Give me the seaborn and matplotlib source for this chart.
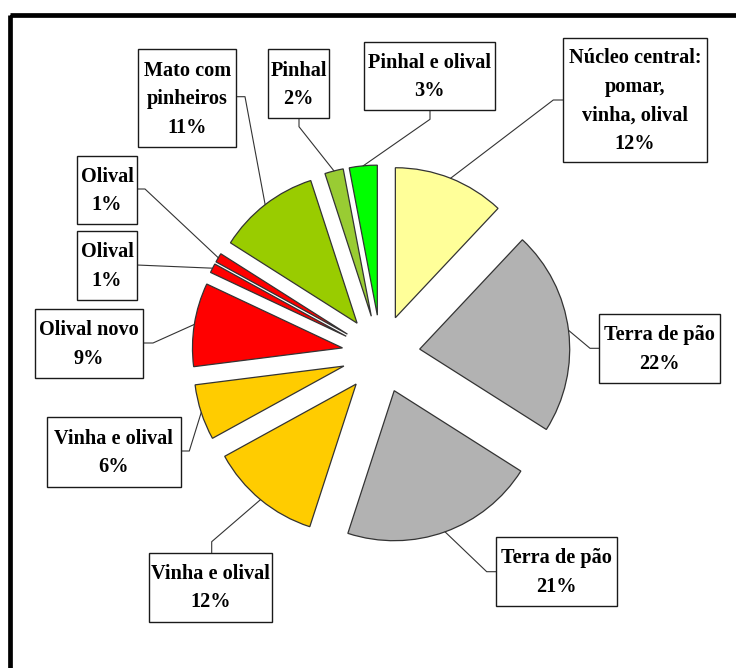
import matplotlib
matplotlib.use("Agg")
import matplotlib.pyplot as plt
import seaborn as sns
import numpy as np
from matplotlib.patches import Rectangle

# Land-use shares, drawn clockwise from 12 o'clock
categories = [
    "Núcleo central:\npomar,\nvinha, olival",
    "Terra de pão",
    "Terra de pão",
    "Vinha e olival",
    "Vinha e olival",
    "Olival novo",
    "Olival",
    "Olival",
    "Mato com\npinheiros",
    "Pinhal",
    "Pinhal e olival",
]
shares = [12, 22, 21, 12, 6, 9, 1, 1, 11, 2, 3]
slice_colors = [
    "#FFFF99", "#B2B2B2", "#B2B2B2", "#FFCC00", "#FFCC00",
    "#FF0000", "#FF0000", "#FF0000", "#99CC00", "#99CC33", "#00FF00",
]

# Label boxes (x0, y0, x1, y1) in canvas pixels
label_boxes = [
    (563.3, 38.3, 706.7, 161.7),
    (599.0, 314.0, 720.0, 383.3),
    (496.0, 537.3, 617.3, 606.0),
    (149.0, 552.7, 272.3, 621.7),
    (46.7, 417.3, 180.7, 486.7),
    (35.0, 309.3, 143.3, 377.7),
    (77.3, 230.7, 136.7, 300.0),
    (77.3, 156.0, 136.7, 224.0),
    (138.3, 49.3, 236.0, 147.3),
    (268.3, 49.3, 329.3, 118.3),
    (364.0, 42.3, 495.0, 110.0),
]
# Leader-line bends from the wedge rim to each box
leader_paths = [
    [(553.3, 100.0), (563.3, 100.0)],
    [(590.0, 348.3), (599.0, 348.3)],
    [(486.7, 571.7), (496.0, 571.7)],
    [(211.7, 541.7), (211.7, 552.7)],
    [(189.3, 451.0), (180.7, 451.0)],
    [(153.0, 343.0), (143.3, 343.0)],
    [(136.7, 265.0)],
    [(145.0, 189.0), (136.7, 189.0)],
    [(245.0, 96.7), (236.0, 96.7)],
    [(299.0, 126.7), (299.0, 118.3)],
    [(430.0, 119.3), (430.0, 110.0)],
]

sns.set_theme(style="white")
plt.rcParams["font.family"] = ["Liberation Serif", "DejaVu Serif"]

W, H = 736, 668
fig = plt.figure(figsize=(W / 100, H / 100), dpi=100)
ax = fig.add_axes([0, 0, 1, 1])

wedges, _ = ax.pie(
    shares,
    colors=slice_colors,
    startangle=-90,
    counterclock=True,
    explode=[39] * len(shares),
    radius=150,
    center=(381, 354),
    frame=True,
    wedgeprops=dict(edgecolor="#333333", linewidth=0.9),
)
ax.set_xlim(0, W)
ax.set_ylim(H, 0)
ax.set_aspect("equal", adjustable="box")
ax.set_axis_off()

for w, name, val, box, path in zip(wedges, categories, shares, label_boxes, leader_paths):
    th = np.deg2rad(0.5 * (w.theta1 + w.theta2))
    cx, cy = w.center
    start = (cx + w.r * np.cos(th), cy + w.r * np.sin(th))
    pts = [start] + path
    ax.plot([p[0] for p in pts], [p[1] for p in pts], color="#333333",
            lw=0.8, zorder=3)
    x0, y0, x1, y1 = box
    ax.add_patch(Rectangle((x0, y0), x1 - x0, y1 - y0, facecolor="white",
                           edgecolor="#1a1a1a", lw=1.0, zorder=4))
    ax.text((x0 + x1) / 2, (y0 + y1) / 2 + 1, f"{name}\n{val}%", ha="center",
            va="center", fontsize=14.6, fontweight="bold", linespacing=1.57,
            color="black", zorder=5)

# Heavy frame along the top and left edges
ax.add_patch(Rectangle((10.3, 14.5), 2000, 2000, fill=False,
                       edgecolor="black", lw=3.4, zorder=6))

fig.savefig("out.png", dpi=100)
